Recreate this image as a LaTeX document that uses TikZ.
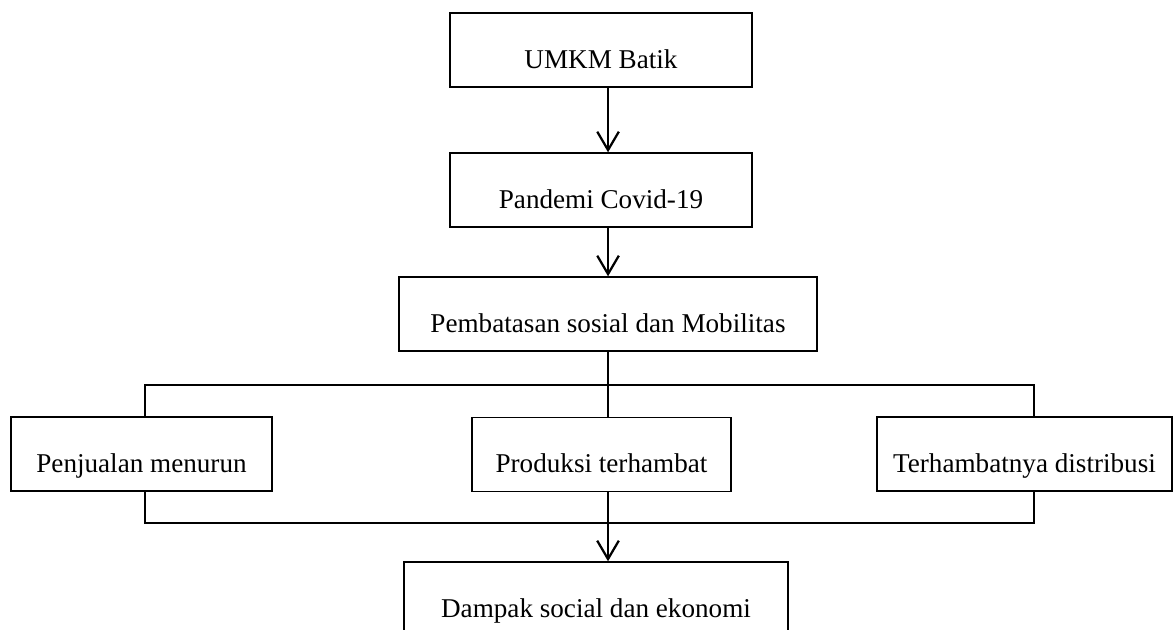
\documentclass[tikz,border=0pt]{standalone}
\usepackage{fontspec}
\setmainfont{Liberation Serif}
\usetikzlibrary{arrows.meta}

\begin{document}
\begin{tikzpicture}[x=0.025cm,y=-0.025cm,
  kotak/.style={draw,line width=1pt,rectangle,inner sep=0pt,minimum height=1.85cm,
    font=\fontsize{19.3}{23}\selectfont,text height=31pt,text depth=5pt},
  panah/.style={->,line width=1.6pt},
  garis/.style={line width=1pt},
  >={Straight Barb[length=0.46cm,width=0.54cm]}]
\clip (0,0) rectangle (1176,630);
\node[kotak,minimum width=7.55cm] (umkm) at (601,50) {UMKM Batik};
\node[kotak,minimum width=7.55cm] (pandemi) at (601,190) {Pandemi Covid-19};
\node[kotak,minimum width=10.45cm] (batas) at (608,314) {Pembatasan sosial dan Mobilitas};
\node[kotak,minimum width=6.525cm] (jual) at (141.5,454) {Penjualan menurun};
\node[kotak,minimum width=6.475cm] (produksi) at (601.5,454.5) {Produksi terhambat};
\node[kotak,minimum width=7.375cm] (distribusi) at (1024.5,454) {Terhambatnya distribusi};
\node[kotak,minimum width=9.6cm] (dampak) at (596,599) {Dampak social dan ekonomi};

\coordinate (pisahL) at (145,385);
\coordinate (pisahR) at (1034,385);
\coordinate (gabungL) at (145,523);
\coordinate (gabungR) at (1034,523);

\draw[panah] ([xshift=5]umkm.south) -- ([xshift=5]pandemi.north);
\draw[panah] ([xshift=5]pandemi.south) -- ([xshift=5]batas.north -| pandemi.north);
% cabang ke tiga dampak
\draw[garis] (batas.south) -- (batas.south |- produksi.north);
\draw[garis] (pisahL |- jual.north) -- (pisahL) -- (pisahR) -- (pisahR |- distribusi.north);
% gabung ke dampak akhir
\draw[garis] (gabungL |- jual.south) -- (gabungL) -- (gabungR) -- (gabungR |- distribusi.south);
\draw[panah] (batas.south |- produksi.south) -- (batas.south |- dampak.north);
\end{tikzpicture}
\end{document}
